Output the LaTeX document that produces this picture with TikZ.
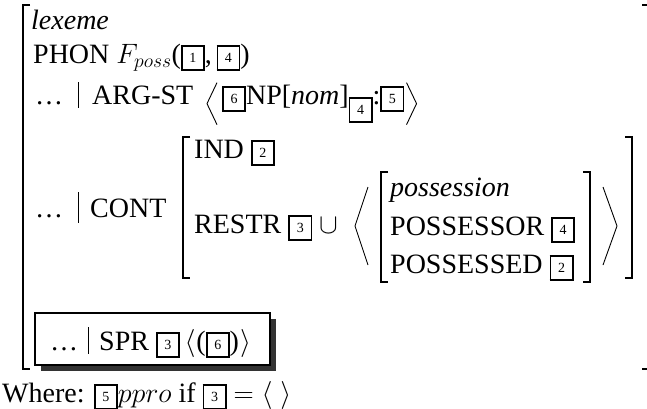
\documentclass[tikz,border=0pt]{standalone}
\usepackage{fix-cm}
\usepackage[no-math]{fontspec}
\setmainfont{Liberation Serif}
\usepackage{amsmath}
\usetikzlibrary{calc}
\newcommand\tg[1]{{\setlength\fboxrule{1.7pt}\setlength\fboxsep{0pt}\raisebox{-6pt}{\fbox{\makebox[20.5pt]{\rule{0pt}{22pt}\raisebox{6.5pt}{\fontsize{14}{14}\selectfont #1}}}}}}
\begin{document}
\begin{tikzpicture}[x=1pt,y=-1pt,
  txt/.style={anchor=base west,inner sep=0pt,font=\fontsize{28}{34}\selectfont},
  brk/.style={line width=1.6pt},
  thinln/.style={line width=0.9pt}]
\useasboundingbox (0,0) rectangle (647,408);
% outer bracket
\draw[brk] (30,5) -- (23,5) -- (23,369) -- (30,369);
\draw[brk] (642,5) -- (647,5);
\draw[brk] (642,369) -- (647,369);
% rows
\node[txt] (lex) at (31,29) {\textit{lexeme}};
\node[txt] (phon) at (33,63) {PHON $F_{poss}$(\tg{1},\,\tg{4})};
\node[txt] (d1) at (35,104) {\dots};
\draw[thinln] (78,82) -- (78,108);
\node[txt] (argst) at (92,104) {ARG-ST};
\node[txt] (np) at (222,104) {\tg{6}NP[\textit{nom}]\raisebox{-11pt}{\tg{4}}:\tg{5}};
\draw[thinln] ($(np.west)+(-5,-21)$) -- ++(-10,21) -- ++(10,21);
\draw[thinln] ($(np.east)+(2,-21)$) -- ++(10,21) -- ++(-10,21);
% CONT
\node[txt] (d2) at (35,217) {\dots};
\draw[thinln] (78,192) -- (78,223);
\node[txt] (cont) at (90,217) {CONT};
\draw[brk] (190,137) -- (183,137) -- (183,278) -- (190,278);
\node[txt] (ind) at (194,158) {IND \tg{2}};
\node[txt] (restr) at (194,233) {RESTR \tg{3} $\cup$};
\draw[thinln] (368,187) -- (355,226) -- (368,265);
\draw[brk] (388,172) -- (381,172) -- (381,282) -- (388,282);
\node[txt] (poss) at (390,196) {\textit{possession}};
\node[txt] (psor) at (390,235) {POSSESSOR \tg{4}};
\node[txt] (psed) at (390,273) {POSSESSED \tg{2}};
\draw[brk] (583,172) -- (590,172) -- (590,282) -- (583,282);
\draw[thinln] (603,187) -- (617,226) -- (603,265);
\draw[brk] (625,137) -- (632,137) -- (632,278) -- (625,278);
% SPR box
\fill[black!80] (41,319) rectangle (276,371);
\draw[line width=1.6pt,fill=white] (35,313) rectangle (270,365);
\node[txt] (d3) at (50,350) {\dots};
\draw[thinln] (88,327) -- (88,354);
\node[txt] (spr) at (99,350) {SPR \tg{3}\,$\langle$\kern1pt(\tg{6})\kern1pt$\rangle$};
% where
\node[txt] (where) at (2,402) {Where: \tg{5}$ppro$ if \tg{3} $=\langle\hspace{8pt}\rangle$};
\end{tikzpicture}
\end{document}
